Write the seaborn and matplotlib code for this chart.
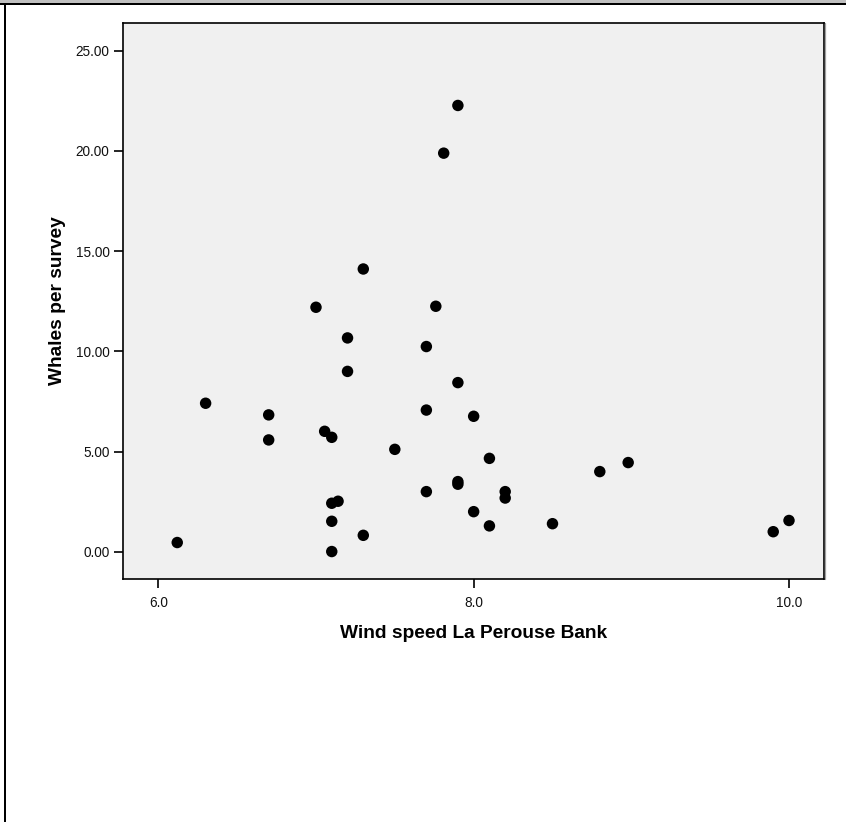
import matplotlib
matplotlib.use("Agg")
import matplotlib.pyplot as plt
from matplotlib.lines import Line2D
from matplotlib.patches import Rectangle
import seaborn as sns
import pandas as pd

# Mean wind speed at La Perouse Bank and whales sighted per survey
wind_speed = [6.12, 6.30, 6.70, 6.70, 7.00, 7.055, 7.10, 7.10, 7.14, 7.10,
              7.10, 7.20, 7.20, 7.30, 7.30, 7.50, 7.70, 7.70, 7.70, 7.76,
              7.81, 7.90, 7.90, 7.90, 7.90, 8.00, 8.00, 8.10, 8.10, 8.20,
              8.20, 8.50, 8.80, 8.98, 9.90, 10.00]
whales = [0.46, 7.41, 6.83, 5.58, 12.20, 6.01, 5.71, 2.42, 2.52, 1.52,
          0.01, 10.67, 9.00, 14.11, 0.82, 5.11, 10.24, 7.07, 3.00, 12.25,
          19.89, 22.27, 8.44, 3.50, 3.37, 6.76, 2.00, 4.66, 1.29, 3.00,
          2.68, 1.40, 4.00, 4.45, 1.00, 1.56]

x_ticks = [6.0, 8.0, 10.0]
x_tick_labels = ["6.0", "8.0", "10.0"]
y_ticks = [0, 5, 10, 15, 20, 25]
y_tick_labels = ["0.00", "5.00", "10.00", "15.00", "20.00", "25.00"]

df = pd.DataFrame({"Wind speed La Perouse Bank": wind_speed,
                   "Whales per survey": whales})

sns.set_style("white")
plt.rcParams["font.family"] = ["Liberation Sans", "DejaVu Sans"]

W, H = 846, 822
fig = plt.figure(figsize=(W / 100, H / 100), dpi=100)
ax = fig.add_axes([123 / W, 1 - 579 / H, (824 - 123) / W, (579 - 22.7) / H])
ax.set_facecolor("#f0f0f0")

sns.scatterplot(data=df, x="Wind speed La Perouse Bank", y="Whales per survey",
                color="black", edgecolor="none", s=68, ax=ax, zorder=3)

ax.set_xlim(5.776, 10.222)
ax.set_ylim(-1.36, 26.4)
ax.set_xticks(x_ticks)
ax.set_xticklabels(x_tick_labels)
ax.set_yticks(y_ticks)
ax.set_yticklabels(y_tick_labels)
ax.tick_params(axis="both", direction="out", length=6.3, width=1.2,
               color="black", labelsize=9.8, labelcolor="#111111",
               bottom=True, left=True)
ax.tick_params(axis="x", pad=6)
ax.tick_params(axis="y", pad=3.5)

for side in ["left", "right", "top", "bottom"]:
    ax.spines[side].set_visible(True)
    ax.spines[side].set_color("black")
    ax.spines[side].set_linewidth(1.2)

ax.set_xlabel("Wind speed La Perouse Bank", fontsize=13.8, fontweight="bold",
              color="black")
ax.set_ylabel("Whales per survey", fontsize=13.8, fontweight="bold",
              color="black")
ax.xaxis.set_label_coords(0.5, -0.082)
ax.yaxis.set_label_coords(-0.082, 0.5)

# Soft shadow along the right edge of the plot frame
ax_box = ax.get_position()
fig.add_artist(Line2D([ax_box.x1 + 1.3 / W] * 2, [ax_box.y0, ax_box.y1],
                      transform=fig.transFigure, color="#a0a0a0", lw=0.9))

# Window frame: grey strip and black rule at the top, black rule on the left
fig.add_artist(Rectangle((0, 1 - 2.7 / H), 1, 2.7 / H, transform=fig.transFigure,
                         facecolor="#c0c0c0", edgecolor="none"))
fig.add_artist(Rectangle((0, 1 - 4.7 / H), 1, 2.0 / H, transform=fig.transFigure,
                         facecolor="black", edgecolor="none"))
fig.add_artist(Rectangle((4 / W, 0), 2 / W, 1 - 2.7 / H, transform=fig.transFigure,
                         facecolor="black", edgecolor="none"))

fig.savefig("out.png", dpi=100, facecolor="white")
